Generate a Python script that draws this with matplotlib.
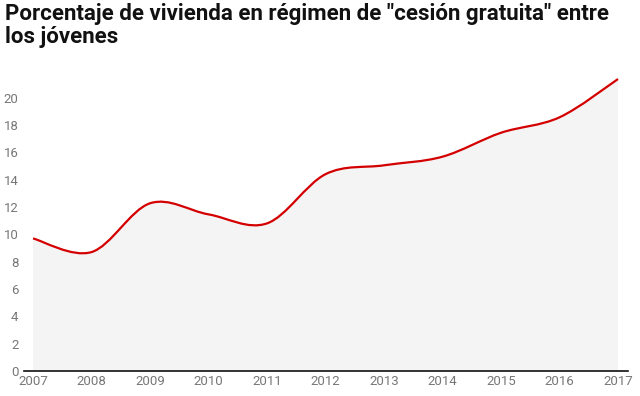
import matplotlib
matplotlib.use("Agg")
import matplotlib.pyplot as plt
from matplotlib.path import Path
from matplotlib.patches import PathPatch
import numpy as np

years = [2007, 2008, 2009, 2010, 2011, 2012, 2013, 2014, 2015, 2016, 2017]
values = [9.7, 8.7, 12.27, 11.46, 10.8, 14.4, 15.05, 15.68, 17.43, 18.56, 21.36]
yticks = [0, 2, 4, 6, 8, 10, 12, 14, 16, 18, 20]
title = 'Porcentaje de vivienda en régimen de "cesión gratuita" entre\nlos jóvenes'

W, H = 640, 396
fig = plt.figure(figsize=(W / 100, H / 100), dpi=100)
left, right = 24, 628
bottom, top = 371, 70.3
ax = fig.add_axes([left / W, (H - bottom) / H, (right - left) / W, (bottom - top) / H])

x = np.array(years, dtype=float)
y = np.array(values, dtype=float)

# smooth curve via Catmull-Rom -> cubic Bezier segments
verts = [(x[0], y[0])]
codes = [Path.MOVETO]
n = len(x)
t = 1 / 6
for i in range(n - 1):
    p0 = (x[i - 1], y[i - 1]) if i > 0 else (x[i], y[i])
    p1 = (x[i], y[i])
    p2 = (x[i + 1], y[i + 1])
    p3 = (x[i + 2], y[i + 2]) if i + 2 < n else (x[i + 1], y[i + 1])
    c1 = (p1[0] + (p2[0] - p0[0]) * t, p1[1] + (p2[1] - p0[1]) * t)
    c2 = (p2[0] - (p3[0] - p1[0]) * t, p2[1] - (p3[1] - p1[1]) * t)
    verts += [c1, c2, p2]
    codes += [Path.CURVE4] * 3

line_path = Path(verts, codes)
fill_verts = verts + [(x[-1], 0), (x[0], 0), (x[0], y[0])]
fill_codes = codes + [Path.LINETO, Path.LINETO, Path.CLOSEPOLY]
ax.add_patch(PathPatch(Path(fill_verts, fill_codes), facecolor="#f4f4f4", edgecolor="none", zorder=1))
ax.add_patch(PathPatch(line_path, facecolor="none", edgecolor="#d40000", lw=1.6, zorder=3))

ax.set_xlim(2007 - 9 / 58.5, 2017 + 10 / 58.5)
ax.set_ylim(0, 22)
ax.set_xticks(years)
ax.set_xticklabels([str(v) for v in years])
ax.set_yticks(yticks)
ax.set_yticklabels([str(v) for v in yticks])
for s in ["top", "right", "left"]:
    ax.spines[s].set_visible(False)
ax.spines["bottom"].set_color("#111111")
ax.spines["bottom"].set_linewidth(1.2)
ax.spines["bottom"].set_zorder(4)
ax.tick_params(length=0, labelsize=9.5, labelcolor="#777777")
ax.tick_params(axis="y", pad=4)
ax.tick_params(axis="x", pad=3)
for lab in ax.get_xticklabels() + ax.get_yticklabels():
    lab.set_family("Roboto")

fig.text(5 / W, 1 - 3 / H, title, ha="left", va="top", fontsize=16, fontweight="bold",
         family="Roboto", color="#111111", linespacing=1.05)

fig.savefig("out.png", dpi=100)
